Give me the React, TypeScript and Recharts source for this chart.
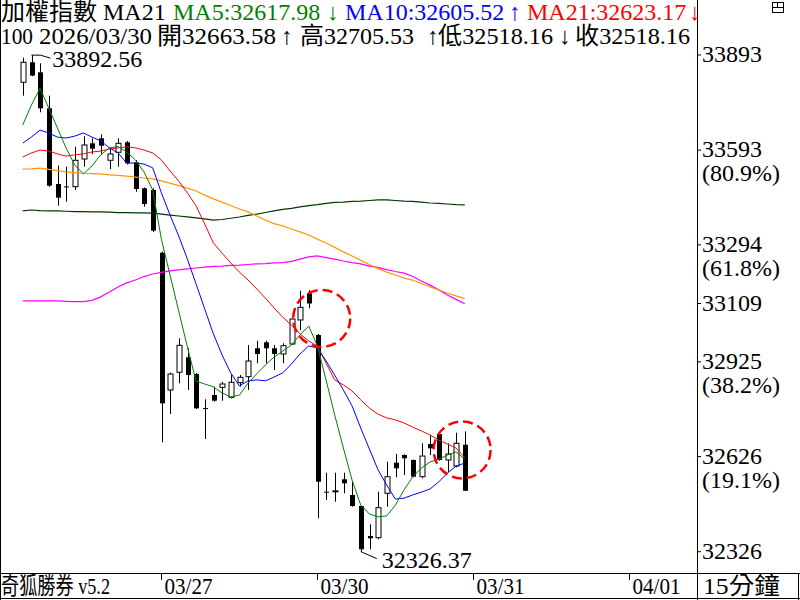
import React from 'react';
import { ComposedChart, Line, Bar, XAxis, YAxis, ReferenceDot } from 'recharts';

const FONT = "'Liberation Serif','Noto Sans CJK TC',serif";

// 15-minute bars: 03/26 (partial), 03/27, 03/30
const opens = [33807, 33870, 33838.4, 33724.8, 33486, 33478.5, 33477.5, 33564.9, 33614.4, 33630.2, 33560.8, 33586, 33617.6, 33554.5, 33472.5, 33467.1, 33269.3, 32836.1, 32892, 32939.3, 32886.6, 32779.5, 32820.4, 32844.6, 32813.1, 32859.1, 32878.1, 32967.7, 32986.6, 32967.7, 32949.7, 32981.2, 33057, 33141.2, 33009.6, 32515.3, 32516, 32554.4, 32504.9, 32470.2, 32375.5, 32370.2, 32510.2, 32606.8, 32631.1, 32615.3, 32562.6, 32665.8, 32697.3, 32615.3, 32596.4, 32663.58];
const highs = [33884.5, 33892.56, 33866.8, 33764.6, 33543.8, 33540.6, 33603.7, 33636.5, 33630.2, 33642.8, 33596.4, 33630.2, 33621.7, 33561.7, 33475, 33472.5, 33273, 32890.7, 32999.2, 32967.7, 32889.8, 32806.8, 32846.5, 32862.3, 32883.4, 32883.4, 32978.1, 32991.7, 32991.7, 32978.1, 32983.5, 33062.3, 33149.4, 33151.6, 33012.8, 32575.2, 32575.2, 32575.2, 32546.8, 32470.2, 32412.4, 32515.3, 32609.9, 32634.2, 32633, 32617, 32668, 32694.2, 32700, 32668, 32701.4, 32705.53];
const lows = [33764.6, 33826, 33712.2, 33477.5, 33417.6, 33430.2, 33467.1, 33540.6, 33579.7, 33579.7, 33533.3, 33540.6, 33547.5, 33461.7, 33414.4, 33334.6, 32671.1, 32760.4, 32857.3, 32836.1, 32776, 32681.5, 32799.3, 32802.4, 32810, 32846.5, 32836.1, 32920.4, 32920.4, 32899.2, 32920.4, 32979, 33025.4, 33093.9, 32431.4, 32489.1, 32483.7, 32510.2, 32468, 32326.37, 32333.6, 32365.1, 32468, 32560.7, 32568, 32560.7, 32557.6, 32631.1, 32613, 32578.4, 32592.3, 32518.16];
const closes = [33870, 33828, 33724.8, 33480.7, 33442.8, 33476.5, 33560.8, 33609.1, 33597.4, 33606.8, 33580.7, 33614.4, 33551.3, 33470.2, 33422.9, 33338.7, 32794.2, 32886.6, 32977.1, 32883.4, 32778.4, 32777.5, 32802.4, 32855.1, 32860.4, 32876.2, 32927.6, 32949.7, 32967.7, 32949.7, 32975.9, 33060.1, 33097, 33109, 32546.8, 32514, 32518, 32541.8, 32470.2, 32333.6, 32368.3, 32464.8, 32562.6, 32589.1, 32620.7, 32562.6, 32627.9, 32652.2, 32615.3, 32634.2, 32668, 32518.16];

const ma5 = [33672, 33735, 33788, 33726, 33663, 33600, 33546, 33518, 33543, 33578, 33600, 33604, 33587, 33562, 33524, 33467, 33312, 33199, 33085, 32972, 32864, 32855, 32846, 32827, 32814, 32820, 32858, 32887, 32915, 32940, 32959, 32978, 33010, 33038, 32975, 32868, 32757, 32653, 32552, 32473, 32445, 32436, 32439, 32473, 32521, 32562, 32590, 32609, 32618, 32631, 32641, 32617.98];
const ma10 = [33615, 33634, 33656, 33647, 33634, 33631, 33637, 33647, 33634, 33622, 33600, 33584, 33552, 33552, 33549, 33537, 33458, 33388, 33322, 33249, 33171, 33092, 33013, 32947, 32890, 32849, 32865, 32868, 32865, 32877, 32890, 32918, 32950, 32975, 32969, 32928, 32883, 32836, 32786, 32716, 32650, 32584, 32536, 32492, 32495, 32505, 32514, 32524, 32546, 32574, 32596, 32605.52];
const ma21 = [33571, 33584, 33593, 33590, 33581, 33574, 33578, 33581, 33587, 33590, 33596, 33600, 33603, 33600, 33593, 33584, 33562, 33527, 33495, 33458, 33417, 33360, 33300, 33268, 33237, 33208, 33183, 33155, 33126, 33095, 33066, 33041, 33013, 32991, 32975, 32921, 32868, 32852, 32833, 32805, 32779, 32760, 32748, 32742, 32732, 32719, 32707, 32694, 32678, 32666, 32653, 32623.17];
const maOrange = [33533, 33534, 33536, 33532, 33528, 33524, 33522, 33520, 33519, 33518, 33515, 33513, 33511, 33508, 33505, 33502, 33496, 33489, 33481, 33473, 33464, 33451, 33439, 33429, 33418, 33407, 33398, 33385, 33372, 33361, 33354, 33344, 33335, 33325, 33312, 33300, 33286, 33272, 33259, 33245, 33232, 33219, 33208, 33199, 33189, 33183, 33172, 33161, 33152, 33142, 33133, 33125];
const maDark = [33401, 33404, 33402, 33401, 33401, 33400, 33399, 33399, 33398, 33398, 33397, 33396, 33396, 33395, 33395, 33394, 33391, 33388, 33385, 33382, 33379, 33376, 33372, 33374, 33378, 33382, 33387, 33391, 33396, 33401, 33406, 33409, 33414, 33418, 33421, 33425, 33428, 33429, 33431, 33432, 33434, 33436, 33436, 33434, 33432, 33431, 33429, 33426, 33425, 33423, 33421, 33420];
const maMagenta = [33117, 33117, 33117, 33117, 33117, 33116, 33115, 33115, 33119, 33130, 33145, 33161, 33174, 33183, 33194, 33202, 33207, 33212, 33215, 33218, 33221, 33224, 33226, 33227, 33229, 33230, 33232, 33234, 33235, 33237, 33238, 33242, 33249, 33256, 33259, 33254, 33249, 33243, 33238, 33234, 33227, 33223, 33216, 33210, 33205, 33194, 33180, 33167, 33152, 33136, 33122, 33108];

const priceTicks = [33893, 33593, 33294, 33109, 32925, 32626, 32326];
const priceTickPct: Record<number, string> = { 33593: '(80.9%)', 33294: '(61.8%)', 32925: '(38.2%)', 32626: '(19.1%)' };
const dateTicks = [16, 34, 52, 70];
const dateLabels = ['03/27', '03/30', '03/31', '04/01'];

const rows = opens.map((o, i) => ({
  i,
  open: o,
  high: highs[i],
  low: lows[i],
  close: closes[i],
  ma5: ma5[i],
  ma10: ma10[i],
  ma21: ma21[i],
  maOrange: maOrange[i],
  maDark: maDark[i],
  maMagenta: maMagenta[i],
}));

const Candle = (props: any) => {
  const { x, y, width, height, payload } = props;
  if (!payload || height == null) return null;
  const { open, close, high, low } = payload;
  const cx = Math.round(x + width / 2) + 0.5;
  const range = high - low || 1;
  const py = (v: number) => y + ((high - v) / range) * height;
  const up = close > open;
  const top = py(Math.max(open, close));
  const bot = py(Math.min(open, close));
  const bh = Math.max(bot - top, 1);
  return (
    <g>
      <line x1={cx} x2={cx} y1={y} y2={y + height} stroke="#000" strokeWidth={1} />
      {up ? (
        <rect x={cx - 2.5} y={top} width={5} height={bh} fill="#fff" stroke="#000" strokeWidth={1} />
      ) : (
        <rect x={cx - 2.5} y={top} width={5} height={bh} fill="#000" />
      )}
    </g>
  );
};

const PriceTick = (props: any) => {
  const { x, y, payload } = props;
  const v = payload.value;
  const pct = priceTickPct[v];
  return (
    <g>
      <line x1={x} x2={x + 4} y1={y} y2={y} stroke="#000" strokeWidth={1} />
      <text x={x + 5} y={y + 7} fontSize={24} fontFamily={FONT} fill="#000" textAnchor="start">{String(v)}</text>
      {pct ? (
        <text x={x + 5} y={y + 31} fontSize={24} fontFamily={FONT} fill="#000" textAnchor="start">{pct}</text>
      ) : null}
    </g>
  );
};

const DateTick = (props: any) => {
  const { x, y, payload } = props;
  const idx = dateTicks.indexOf(payload.value);
  const label = idx >= 0 ? dateLabels[idx] : '';
  const px = Math.round(x) + 0.5;
  return (
    <g>
      <line x1={px} x2={px} y1={y + 1} y2={y + 7} stroke="#000" strokeWidth={1} />
      <text x={px + 3} y={y + 21} fontSize={24} fontFamily={FONT} fill="#000" textLength={48} lengthAdjust="spacingAndGlyphs">{label}</text>
    </g>
  );
};

const HighLabel = (props: any) => {
  const { cx, cy } = props;
  return (
    <g>
      <polyline points={`${cx},${cy} ${cx + 9},${cy} ${cx + 19},${cy + 3}`} fill="none" stroke="#000" strokeWidth={1} />
      <text x={cx + 21} y={cy + 12} fontSize={24} fontFamily={FONT} fill="#000">33892.56</text>
    </g>
  );
};

const LowLabel = (props: any) => {
  const { cx, cy } = props;
  return (
    <g>
      <polyline points={`${cx},${cy} ${cx + 16},${cy + 7}`} fill="none" stroke="#000" strokeWidth={1} />
      <text x={cx + 21} y={cy + 16} fontSize={24} fontFamily={FONT} fill="#000">32326.37</text>
    </g>
  );
};

const T = (p: { x: number; y: number; c?: string; w?: number; children: React.ReactNode }) => (
  <text
    x={p.x}
    y={p.y}
    fontSize={24}
    fontFamily={FONT}
    fill={p.c || '#000'}
    textLength={p.w}
    lengthAdjust={p.w ? 'spacingAndGlyphs' : undefined}
  >
    {p.children}
  </text>
);

export default function App() {
  return (
    <div style={{ position: 'absolute', left: 0, top: 0, width: 800, height: 600, background: '#fff' }}>
      <ComposedChart width={800} height={600} data={rows} margin={{ top: 0, right: 0, bottom: 0, left: 0 }}>
        <XAxis
          dataKey="i"
          type="number"
          domain={[-2.62, 77.8]}
          allowDataOverflow
          ticks={dateTicks}
          interval={0}
          height={27}
          tickSize={0}
          tickMargin={0}
          tick={<DateTick />}
          tickLine={false}
          axisLine={false}
        />
        <YAxis
          orientation="right"
          type="number"
          domain={[32258.8, 34066.5]}
          allowDataOverflow
          ticks={priceTicks}
          interval={0}
          width={103}
          tickSize={0}
          tickMargin={0}
          tick={<PriceTick />}
          tickLine={false}
          axisLine={false}
        />
        <Line dataKey="maDark" stroke="#003800" strokeWidth={1.2} dot={false} activeDot={false} isAnimationActive={false} />
        <Line dataKey="maMagenta" stroke="#ff00ff" strokeWidth={1.2} dot={false} activeDot={false} isAnimationActive={false} />
        <Line dataKey="maOrange" stroke="#ff9900" strokeWidth={1.2} dot={false} activeDot={false} isAnimationActive={false} />
        <Line dataKey="ma21" stroke="#ff0000" strokeWidth={1} dot={false} activeDot={false} isAnimationActive={false} />
        <Line dataKey="ma10" stroke="#0000ff" strokeWidth={1} dot={false} activeDot={false} isAnimationActive={false} />
        <Line dataKey="ma5" stroke="#008000" strokeWidth={1} dot={false} activeDot={false} isAnimationActive={false} />
        <Bar dataKey={(d: any) => [d.low, d.high]} shape={<Candle />} activeBar={false} barSize={7} isAnimationActive={false} />
        <ReferenceDot x={34.5} y={33062} r={28.5} fill="none" stroke="#ff0000" strokeWidth={2.5} strokeDasharray="10 5" ifOverflow="visible" />
        <ReferenceDot x={50.7} y={32647} r={28.5} fill="none" stroke="#ff0000" strokeWidth={2.5} strokeDasharray="10 5" ifOverflow="visible" />
        <ReferenceDot x={1} y={33892.56} r={1} shape={<HighLabel />} ifOverflow="visible" />
        <ReferenceDot x={39} y={32326.37} r={1} shape={<LowLabel />} ifOverflow="visible" />
      </ComposedChart>
      <svg width={800} height={600} style={{ position: 'absolute', left: 0, top: 0, pointerEvents: 'none' }}>
        <line x1={0.5} x2={0.5} y1={0} y2={600} stroke="#000" strokeWidth={1} />
        <line x1={0} x2={800} y1={573.5} y2={573.5} stroke="#000" strokeWidth={1} />
        <line x1={0} x2={800} y1={598.5} y2={598.5} stroke="#000" strokeWidth={1} />
        <line x1={697.5} x2={697.5} y1={0} y2={600} stroke="#000" strokeWidth={1} />
        <line x1={798.5} x2={798.5} y1={573} y2={600} stroke="#000" strokeWidth={1} />
        <rect x={772.5} y={2.5} width={11} height={10} fill="none" stroke="#000" strokeWidth={1} />
        <line x1={772.5} x2={783.5} y1={7.5} y2={7.5} stroke="#000" strokeWidth={1} />
        <line x1={777.5} x2={777.5} y1={2.5} y2={7.5} stroke="#000" strokeWidth={1} />
        <T x={1} y={20}>加權指數 MA21</T>
        <T x={173} y={20} c="#008000">MA5:32617.98</T>
        <T x={327} y={20} c="#008000">↓</T>
        <T x={345} y={20} c="#0000ff">MA10:32605.52</T>
        <T x={509} y={20} c="#0000ff">↑</T>
        <T x={527} y={20} c="#ff0000">MA21:32623.17</T>
        <T x={689} y={20} c="#ff0000">↓</T>
        <T x={1} y={44} w={32}>100</T>
        <T x={39} y={44} w={113}>2026/03/30</T>
        <T x={157} y={44} w={119}>開32663.58</T>
        <T x={281} y={44}>↑</T>
        <T x={300} y={44} w={114}>高32705.53</T>
        <T x={427} y={44}>↑</T>
        <T x={438} y={44} w={115}>低32518.16</T>
        <T x={559} y={44}>↓</T>
        <T x={575} y={44} w={115}>收32518.16</T>
        <text x={1} y={594} fontSize={24} fontFamily={FONT} fill="#000" textLength={109} lengthAdjust="spacingAndGlyphs">奇狐勝券 v5.2</text>
        <text x={703} y={594} fontSize={24} fontFamily={FONT} fill="#000" textLength={77} lengthAdjust="spacingAndGlyphs">15分鐘</text>
      </svg>
    </div>
  );
}
